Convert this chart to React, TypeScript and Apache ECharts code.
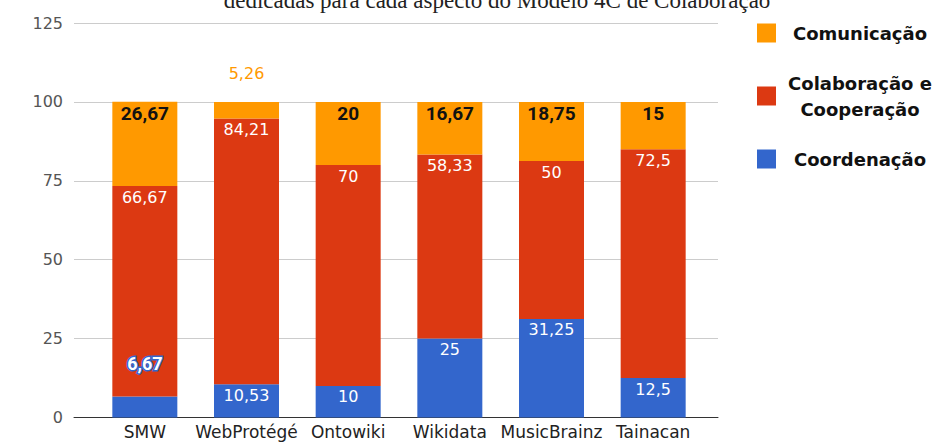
import React, { useEffect, useRef } from "react";
import * as echarts from "echarts";

const categories = ["SMW", "WebProtégé", "Ontowiki", "Wikidata", "MusicBrainz", "Tainacan"];
const coordenacao = [6.67, 10.53, 10, 25, 31.25, 12.5];
const colaboracao = [66.67, 84.21, 70, 58.33, 50, 72.5];
const comunicacao = [26.67, 5.26, 20, 16.67, 18.75, 15];
const yTicks = { min: 0, max: 125, interval: 25 };
const titleText = "dedicadas para cada aspecto do Modelo 4C de Colaboração";
const seriesNames = ["Comunicação", "Colaboração e\nCooperação", "Coordenação"];

const BLUE = "#3366cc";
const RED = "#dc3912";
const ORANGE = "#ff9900";
const FONT = "'DejaVu Sans', sans-serif";
const FONT_R = "Roboto, sans-serif";

const fmt = (p: any) => String(p.value).replace(".", ",");

export default function App() {
  const ref = useRef<HTMLDivElement>(null);
  useEffect(() => {
    if (!ref.current) return;
    const chart = echarts.init(ref.current, null, { renderer: "svg" });
    const bgGrid = { left: 74, right: 216, top: 23, bottom: 26.5 };
    const mainGrid = { left: 94, right: 230, top: 23, bottom: 26.5 };

    const blueData = coordenacao.map((v, i) =>
      i === 0
        ? {
            value: v,
            label: {
              position: "top",
              distance: 24,
              color: "#ffffff",
              fontWeight: "bold",
              fontFamily: FONT_R,
              fontSize: 18,
              textBorderColor: BLUE,
              textBorderWidth: 3,
            },
          }
        : v
    );
    const orangeData = comunicacao.map((v, i) =>
      i === 1
        ? {
            value: v,
            label: { position: "top", distance: 20, color: ORANGE, fontWeight: "normal", fontFamily: FONT, fontSize: 16 },
          }
        : v
    );

    chart.setOption({
      animation: false,
      backgroundColor: "#ffffff",
      title: {
        text: titleText,
        left: 492,
        textAlign: "center",
        top: -16,
        textStyle: { fontFamily: "'Liberation Serif', serif", fontSize: 23, fontWeight: "normal", color: "#222" },
      },
      legend: {
        orient: "vertical",
        left: 752,
        top: 15,
        itemWidth: 19,
        itemHeight: 19,
        itemGap: 24,
        icon: "rect",
        data: seriesNames,
        formatter: (name: string) =>
          name
            .split("\n")
            .map((l) => "{c|" + l + "}")
            .join("\n"),
        textStyle: {
          fontFamily: FONT,
          fontSize: 18,
          fontWeight: "bold",
          color: "#111",
          lineHeight: 26,
          rich: {
            c: { width: 158, align: "center", fontFamily: FONT, fontSize: 18, fontWeight: "bold", color: "#111", lineHeight: 26 },
          },
        },
      },
      grid: [{ ...bgGrid }, { ...mainGrid }],
      xAxis: [
        {
          gridIndex: 0,
          type: "category",
          data: categories,
          axisLabel: { show: false },
          axisTick: { show: false },
          axisLine: { show: true, lineStyle: { color: "#333", width: 1 } },
        },
        {
          gridIndex: 1,
          type: "category",
          data: categories,
          axisLabel: { fontFamily: FONT, fontSize: 17, color: "#222", margin: 6, interval: 0 },
          axisTick: { show: false },
          axisLine: { show: false },
        },
      ],
      yAxis: [
        {
          gridIndex: 0,
          type: "value",
          ...yTicks,
          axisLabel: { fontFamily: FONT, fontSize: 16, color: "#555", margin: 11 },
          axisLine: { show: false },
          axisTick: { show: false },
          splitLine: { lineStyle: { color: "#cccccc", width: 1 } },
        },
        {
          gridIndex: 1,
          type: "value",
          ...yTicks,
          show: false,
          splitLine: { show: false },
        },
      ],
      series: [
        {
          name: seriesNames[2],
          type: "bar",
          stack: "s",
          xAxisIndex: 1,
          yAxisIndex: 1,
          barWidth: 65,
          itemStyle: { color: BLUE },
          data: blueData,
          label: {
            show: true,
            position: "insideTop",
            distance: 3,
            formatter: fmt,
            fontFamily: FONT,
            fontSize: 16,
            color: "#fff",
          },
        },
        {
          name: seriesNames[1],
          type: "bar",
          stack: "s",
          xAxisIndex: 1,
          yAxisIndex: 1,
          barWidth: 65,
          itemStyle: { color: RED },
          data: colaboracao,
          label: {
            show: true,
            position: "insideTop",
            distance: 3,
            formatter: fmt,
            fontFamily: FONT,
            fontSize: 16,
            color: "#fff",
          },
        },
        {
          name: seriesNames[0],
          type: "bar",
          stack: "s",
          xAxisIndex: 1,
          yAxisIndex: 1,
          barWidth: 65,
          itemStyle: { color: ORANGE },
          data: orangeData,
          label: {
            show: true,
            position: "insideTop",
            distance: 2,
            formatter: fmt,
            fontFamily: FONT_R,
            fontSize: 19,
            fontWeight: "bold",
            color: "#111",
          },
        },
      ],
    });
    return () => chart.dispose();
  }, []);
  return <div ref={ref} style={{ position: "absolute", left: 0, top: 0, width: 934, height: 444 }} />;
}
